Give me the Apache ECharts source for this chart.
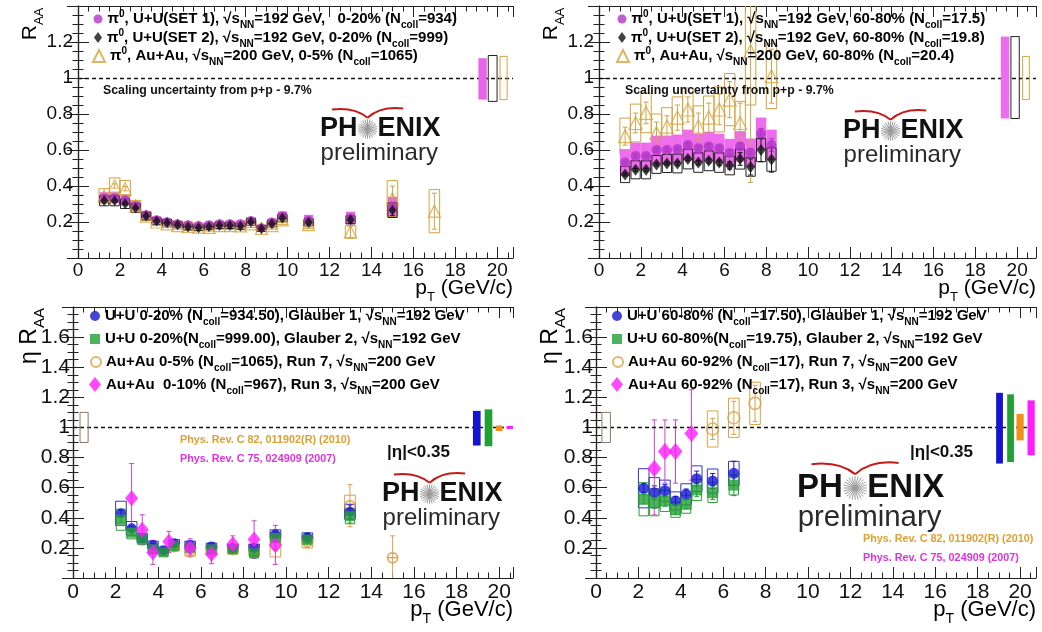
<!DOCTYPE html>
<html><head><meta charset="utf-8">
<script src="https://cdn.jsdelivr.net/npm/echarts@6/dist/echarts.min.js"></script>
<style>html,body{margin:0;padding:0;background:#fff}#c{width:1042px;height:632px}</style>
</head><body><div id="c"></div>
<script>
// ---------------- DATA ----------------
// Top-left: pi0 RAA central
const tlPt = [1.25,1.75,2.25,2.75,3.25,3.75,4.25,4.75,5.25,5.75,6.25,6.75,7.25,7.75,8.25,8.75,9.25,9.75,11,13,15];
const tlSet1 = [0.335,0.335,0.322,0.29,0.24,0.212,0.202,0.19,0.185,0.18,0.185,0.19,0.19,0.19,0.208,0.168,0.2,0.235,0.21,0.222,0.285];
const tlSet1Sys = [0.03,0.03,0.03,0.026,0.022,0.02,0.019,0.018,0.018,0.018,0.018,0.018,0.018,0.018,0.02,0.017,0.02,0.024,0.03,0.035,0.055];
const tlSet1Stat = [0.006,0.006,0.006,0.006,0.006,0.006,0.006,0.006,0.006,0.006,0.006,0.006,0.006,0.006,0.008,0.008,0.008,0.01,0.01,0.015,0.025];
const tlSet2 = [0.318,0.318,0.302,0.278,0.233,0.205,0.196,0.185,0.172,0.168,0.174,0.181,0.181,0.177,0.2,0.163,0.19,0.222,0.198,0.212,0.265];
const tlSet2Sys = [0.028,0.028,0.027,0.025,0.021,0.018,0.018,0.017,0.016,0.016,0.016,0.017,0.017,0.017,0.019,0.016,0.018,0.021,0.02,0.022,0.04];
const tlSet2Stat = [0.006,0.006,0.006,0.006,0.006,0.006,0.006,0.006,0.006,0.006,0.006,0.006,0.006,0.006,0.008,0.008,0.008,0.01,0.012,0.018,0.03];
const tlAuPt = [1.25,1.75,2.25,2.75,3.25,3.75,4.25,4.75,5.25,5.75,6.25,6.75,7.25,7.75,8.25,8.75,9.25,9.75,11,13,15,17];
const tlAu = [0.345,0.4,0.385,0.29,0.232,0.2,0.19,0.18,0.176,0.172,0.17,0.18,0.18,0.178,0.19,0.165,0.18,0.212,0.185,0.145,0.33,0.26];
const tlAuSys = [0.04,0.045,0.045,0.03,0.025,0.02,0.02,0.02,0.02,0.02,0.02,0.02,0.02,0.02,0.02,0.018,0.02,0.025,0.022,0.035,0.1,0.12];
const tlAuStat = [0.01,0.012,0.012,0.008,0.008,0.008,0.008,0.008,0.008,0.008,0.008,0.008,0.008,0.008,0.01,0.01,0.012,0.015,0.015,0.03,0.07,0.1];
const tlScaleX = [19.3,19.78,20.3];
const tlScaleLo = [0.88,0.87,0.88];
const tlScaleHi = [1.11,1.125,1.12];

// Top-right: pi0 RAA peripheral
const trPt = [1.25,1.75,2.25,2.75,3.25,3.75,4.25,4.75,5.25,5.75,6.25,6.75,7.25,7.75,8.25];
const trSet1 = [0.53,0.566,0.566,0.6,0.6,0.606,0.628,0.61,0.62,0.61,0.584,0.62,0.584,0.69,0.628];
const trSet1Sys = [0.075,0.075,0.075,0.08,0.08,0.08,0.085,0.08,0.08,0.08,0.078,0.085,0.08,0.09,0.085];
const trSet1Stat = [0.008,0.008,0.008,0.008,0.008,0.008,0.01,0.01,0.012,0.012,0.015,0.02,0.025,0.03,0.035];
const trSet2 = [0.464,0.49,0.49,0.52,0.525,0.525,0.55,0.53,0.54,0.53,0.514,0.55,0.506,0.6,0.547];
const trSet2Sys = [0.045,0.05,0.05,0.05,0.05,0.052,0.055,0.054,0.055,0.054,0.052,0.056,0.052,0.065,0.065];
const trSet2Stat = [0.008,0.008,0.008,0.008,0.008,0.01,0.01,0.012,0.012,0.015,0.02,0.035,0.045,0.065,0.07];
const trAuPt = [1.25,1.75,2.25,2.75,3.25,3.75,4.25,4.75,5.25,5.75,6.25,6.75,7.25,8.25];
const trAu = [0.677,0.75,0.806,0.695,0.73,0.78,0.825,0.73,0.78,0.825,0.88,0.75,1.15,1.01];
const trAuSys = [0.1,0.105,0.11,0.105,0.105,0.115,0.12,0.115,0.12,0.125,0.145,0.12,0.3,0.18];
const trAuStat = [0.05,0.055,0.06,0.06,0.06,0.07,0.07,0.075,0.08,0.085,0.1,0.11,0.73,0.15];
const trScaleX = [19.42,19.9,20.42];
const trScaleLo = [0.775,0.775,0.88];
const trScaleHi = [1.23,1.23,1.12];

// Bottom-left: eta RAA central
const blPt = [2.25,2.75,3.25,3.75,4.25,4.75,5.5,6.5,7.5,8.5,9.5,11,13];
const blBlue = [0.43,0.33,0.266,0.22,0.185,0.23,0.22,0.21,0.2,0.2,0.29,0.27,0.44];
const blBlueSys = [0.08,0.045,0.03,0.025,0.02,0.025,0.025,0.022,0.022,0.022,0.03,0.03,0.05];
const blBlueStat = [0.02,0.015,0.01,0.01,0.01,0.01,0.01,0.01,0.012,0.015,0.02,0.025,0.045];
const blGreen = [0.387,0.3,0.255,0.19,0.17,0.21,0.2,0.19,0.19,0.163,0.266,0.255,0.41];
const blGreenSys = [0.07,0.04,0.03,0.025,0.02,0.025,0.025,0.022,0.022,0.022,0.03,0.03,0.05];
const blGreenStat = [0.02,0.015,0.01,0.01,0.01,0.01,0.01,0.01,0.012,0.015,0.02,0.025,0.045];
const blOrPt = [4.75,5.5,6.5,7.5,8.5,9.5,11,13,15];
const blOr = [0.21,0.18,0.18,0.19,0.19,0.22,0.24,0.48,0.135];
const blOrSys = [0.025,0.035,0.03,0.03,0.04,0.08,0.04,0.07,0];
const blOrStat = [0.01,0.02,0.02,0.02,0.03,0.04,0.04,0.14,0.145];
const blMgPt = [2.75,3.25,3.75,4.5,5.5,6.5,7.5,8.5,9.5];
const blMg = [0.53,0.32,0.17,0.24,0.2,0.16,0.225,0.255,0.22];
const blMgLo = [0.3,0.22,0.09,0.17,0.14,0.095,0.17,0.13,0.09];
const blMgHi = [0.76,0.42,0.25,0.31,0.26,0.225,0.28,0.38,0.35];
const blScaleX = [18.95,19.5,20.0,20.5];
const blScaleLo = [0.88,0.875,0.976,0.99];
const blScaleHi = [1.11,1.12,1.013,1.01];
const blRefX = [0.52], blRefLo = [0.9], blRefHi = [1.1];

// Bottom-right: eta RAA peripheral
const brPt = [2.25,2.75,3.25,3.75,4.25,4.75,5.5,6.5];
const brBlue = [0.596,0.567,0.58,0.512,0.556,0.66,0.644,0.695];
const brBlueSys = [0.13,0.1,0.07,0.06,0.07,0.085,0.08,0.08];
const brBlueStat = [0.03,0.045,0.04,0.03,0.035,0.05,0.05,0.08];
const brGreen = [0.523,0.503,0.512,0.453,0.49,0.585,0.567,0.617];
const brGreenSys = [0.11,0.09,0.07,0.05,0.06,0.07,0.065,0.065];
const brGreenStat = [0.03,0.04,0.035,0.03,0.03,0.045,0.045,0.07];
const brOrPt = [5.5,6.5,7.5];
const brOr = [0.99,1.064,1.16];
const brOrSys = [0.12,0.13,0.14];
const brOrStat = [0.07,0.11,0.12];
const brMgPt = [2.75,3.25,3.75,4.5];
const brMg = [0.727,0.84,0.84,0.96];
const brMgLo = [0.42,0.63,0.63,0.65];
const brMgHi = [1.05,1.05,1.05,1.25];
const brScaleX = [19.03,19.55,20.0,20.52];
const brScaleLo = [0.76,0.77,0.914,0.815];
const brScaleHi = [1.23,1.22,1.09,1.18];
const brRefX = [0.48], brRefLo = [0.9], brRefHi = [1.1];

// Texts
const tlLabels = ['π^{0}, U+U(SET 1), √s_{NN}=192 GeV,   0-20% (N_{coll}=934)',
                  'π^{0}, U+U(SET 2), √s_{NN}=192 GeV, 0-20% (N_{coll}=999)',
                  'π^{0}, Au+Au, √s_{NN}=200 GeV, 0-5% (N_{coll}=1065)'];
const trLabels = ['π^{0}, U+U(SET 1), √s_{NN}=192 GeV, 60-80% (N_{coll}=17.5)',
                  'π^{0}, U+U(SET 2), √s_{NN}=192 GeV, 60-80% (N_{coll}=19.8)',
                  'π^{0}, Au+Au, √s_{NN}=200 GeV, 60-80% (N_{coll}=20.4)'];
const blLabels = ['U+U 0-20% (N_{coll}=934.50), Glauber 1, √s_{NN}=192 GeV',
                  'U+U 0-20%(N_{coll}=999.00), Glauber 2, √s_{NN}=192 GeV',
                  'Au+Au 0-5% (N_{coll}=1065), Run 7, √s_{NN}=200 GeV',
                  'Au+Au  0-10% (N_{coll}=967), Run 3, √s_{NN}=200 GeV'];
const brLabels = ['U+U 60-80% (N_{coll}=17.50), Glauber 1, √s_{NN}=192 GeV',
                  'U+U 60-80%(N_{coll}=19.75), Glauber 2, √s_{NN}=192 GeV',
                  'Au+Au 60-92% (N_{coll}=17), Run 7, √s_{NN}=200 GeV',
                  'Au+Au 60-92% (N_{coll}=17), Run 3, √s_{NN}=200 GeV'];
const scalingText = 'Scaling uncertainty from p+p - 9.7%';
const refTexts = ['Phys. Rev. C 82, 011902(R) (2010)', 'Phys. Rev. C 75, 024909 (2007)'];
const etaCut = '|η|<0.35';
const yTitleTop = 'R_{AA}', yTitleBottom = 'η R_{AA}', xTitle = 'p_{T} (GeV/c)';

// ---------------- HELPERS ----------------
const FONT = '"Liberation Sans", Arial, Helvetica, sans-serif';
const COL = {mag:'#b236c8', magBox:'#e864e8', magBand:'#ee6cee', blk:'#111111', org:'#d6a23e',
  blue:'#1515d0', green:'#22a033', orgC:'#d9a24a', pink:'#ff1cff', gray:'#8a7868', orgF:'#f0901a'};

function rich(s) {
  let out = '', last = 0; const re = /(\^|_)\{([^}]*)\}/g; let m;
  while ((m = re.exec(s)) !== null) {
    if (m.index > last) out += '{b|' + s.slice(last, m.index) + '}';
    out += (m[1] === '^' ? '{sup|' : '{sub|') + m[2] + '}';
    last = re.lastIndex;
  }
  if (last < s.length) out += '{b|' + s.slice(last) + '}';
  return out;
}
function richStyles(fs, weight) {
  const w = weight || 'bold', sfs = Math.round(fs * 0.64);
  return {
    b: {fontSize: fs, fontWeight: w, fontFamily: FONT, color: '#000'},
    sup: {fontSize: sfs, fontWeight: w, fontFamily: FONT, color: '#000', verticalAlign: 'middle', padding: [0,0,Math.round(fs*0.6),0]},
    sub: {fontSize: sfs, fontWeight: w, fontFamily: FONT, color: '#000', verticalAlign: 'bottom', padding: [Math.round(fs*0.85),0,0,0]}
  };
}

const grids = [
  {left: 78, top: 6, width: 435, height: 252},
  {left: 599, top: 6, width: 437, height: 252},
  {left: 73, top: 307, width: 440, height: 271},
  {left: 596, top: 307, width: 440, height: 271}
];
const xMax = [20.75, 20.9, 20.65, 20.75];
const yMax = [1.4, 1.4, 1.8, 1.8];
const tickFs = [19, 19, 21, 21];
const xAxes = [], yAxes = [];
grids.forEach((g, i) => {
  g.outerBoundsMode = 'none'; g.containLabel = false;
  const line = {show: true, lineStyle: {color: '#222', width: 1.2}};
  const major = {show: true, inside: true, length: 11, lineStyle: {color: '#222', width: 1}};
  const minor = {show: true, inside: true, length: 5.5, lineStyle: {color: '#222', width: 1}};
  const base = {gridIndex: i, type: 'value', min: 0, max: xMax[i], splitLine: {show: false}};
  xAxes.push(Object.assign({}, base, {position: 'bottom', interval: 2, axisLine: line, axisTick: major,
    axisLabel: {show: true, fontSize: tickFs[i], color: '#111', fontFamily: FONT, margin: i < 2 ? 3 : 4,
      formatter: v => (Math.abs(v / 2 - Math.round(v / 2)) < 1e-6 && v <= 20.001) ? String(Math.round(v)) : ''}}));
  xAxes.push(Object.assign({}, base, {position: 'bottom', interval: 0.5, axisLine: {show: false}, axisTick: minor, axisLabel: {show: false}}));
  xAxes.push(Object.assign({}, base, {position: 'top', interval: 2, axisLine: line, axisTick: major, axisLabel: {show: false}}));
  xAxes.push(Object.assign({}, base, {position: 'top', interval: 0.5, axisLine: {show: false}, axisTick: minor, axisLabel: {show: false}}));
  const ybase = {gridIndex: i, type: 'value', min: 0, max: yMax[i], interval: 0.2, splitLine: {show: false},
    axisLine: line, axisTick: major, minorTick: {show: true, splitNumber: 4, length: 5.5, lineStyle: {color: '#222', width: 1}}};
  yAxes.push(Object.assign({}, ybase, {position: 'left',
    axisLabel: {show: true, fontSize: tickFs[i], color: '#111', fontFamily: FONT, margin: i < 2 ? 5 : 3,
      formatter: v => (v < 0.01 || v > yMax[i] - 0.01) ? '' : (Math.abs(v - 1) < 1e-6 ? '1' : v.toFixed(1))}}));
  yAxes.push(Object.assign({}, ybase, {position: 'right', axisLabel: {show: false}}));
});

function boxes(gi, xs, lo, hi, hw, style, z) {
  return {type: 'custom', xAxisIndex: gi * 4, yAxisIndex: gi * 2, clip: true, silent: true, z: z || 2,
    data: xs.map((x, k) => [x, lo[k], hi[k]]),
    renderItem(params, api) {
      const x = api.value(0), l = api.value(1), h = api.value(2);
      const w = Array.isArray(hw) ? hw[params.dataIndex] : hw;
      const a = api.coord([x - w, h]), b = api.coord([x + w, l]);
      const st = Array.isArray(style) ? style[params.dataIndex] : style;
      return {type: 'rect', shape: {x: a[0], y: a[1], width: b[0] - a[0], height: b[1] - a[1]}, style: st};
    }};
}
function symBoxes(gi, xs, ys, e, hw, style, z) {
  return boxes(gi, xs, ys.map((y, k) => y - e[k]), ys.map((y, k) => y + e[k]), hw, style, z);
}
function errBars(gi, xs, lo, hi, color, z) {
  return {type: 'custom', xAxisIndex: gi * 4, yAxisIndex: gi * 2, clip: true, silent: true, z: z || 3,
    data: xs.map((x, k) => [x, lo[k], hi[k]]),
    renderItem(params, api) {
      const x = api.value(0), l = api.value(1), h = api.value(2);
      const a = api.coord([x, h]), b = api.coord([x, l]);
      const st = {stroke: color, lineWidth: 1};
      return {type: 'group', children: [
        {type: 'line', shape: {x1: a[0], y1: a[1], x2: b[0], y2: b[1]}, style: st},
        {type: 'line', shape: {x1: a[0] - 2.5, y1: a[1], x2: a[0] + 2.5, y2: a[1]}, style: st},
        {type: 'line', shape: {x1: b[0] - 2.5, y1: b[1], x2: b[0] + 2.5, y2: b[1]}, style: st}]};
    }};
}
function symErr(gi, xs, ys, e, color, z) {
  return errBars(gi, xs, ys.map((y, k) => y - e[k]), ys.map((y, k) => y + e[k]), color, z);
}
function markers(gi, name, xs, ys, symbol, size, itemStyle, z) {
  return {type: 'scatter', name, xAxisIndex: gi * 4, yAxisIndex: gi * 2, symbol, symbolSize: size,
    itemStyle, z: z || 5, silent: true, data: xs.map((x, k) => [x, ys[k]])};
}
function unityLine(gi) {
  return {type: 'scatter', xAxisIndex: gi * 4, yAxisIndex: gi * 2, data: [], silent: true, z: 4,
    markLine: {silent: true, symbol: ['none', 'none'], label: {show: false}, animation: false,
      lineStyle: {type: [4, 3], color: '#111', width: 1.3}, data: [{yAxis: 1}]}};
}
const openStyle = c => ({fill: 'none', stroke: c, lineWidth: 1});
const fillStyle = c => ({fill: c, stroke: null});

// ---------------- SERIES ----------------
const series = [];
// TL
series.push(symBoxes(0, tlPt, tlSet1, tlSet1Sys, 0.22, fillStyle(COL.magBox)));
series.push(symBoxes(0, tlAuPt, tlAu, tlAuSys, 0.25, openStyle(COL.org)));
series.push(symBoxes(0, tlPt, tlSet2, tlSet2Sys, 0.22, openStyle('#222')));
series.push(symErr(0, tlAuPt, tlAu, tlAuStat, COL.org));
series.push(symErr(0, tlPt, tlSet1, tlSet1Stat, COL.mag));
series.push(symErr(0, tlPt, tlSet2, tlSet2Stat, '#111'));
series.push(unityLine(0));
series.push(markers(0, 'tl3', tlAuPt, tlAu, 'triangle', 12, {color: 'rgba(0,0,0,0)', borderColor: COL.org, borderWidth: 1.2}));
series.push(markers(0, 'tl1', tlPt, tlSet1, 'circle', 9, {color: COL.mag}));
series.push(markers(0, 'tl2', tlPt, tlSet2, 'diamond', [8, 11], {color: COL.blk}));
series.push(boxes(0, tlScaleX, tlScaleLo, tlScaleHi, [0.2, 0.21, 0.17],
  [fillStyle(COL.magBox), openStyle('#222'), openStyle(COL.org)], 6));
// TR
series.push(symBoxes(1, trAuPt, trAu, trAuSys, 0.25, openStyle(COL.org)));
series.push(symBoxes(1, trPt, trSet1, trSet1Sys, 0.25, fillStyle(COL.magBand)));
series.push(symBoxes(1, trPt, trSet2, trSet2Sys, 0.22, openStyle('#222')));
series.push(symErr(1, trAuPt, trAu, trAuStat, COL.org));
series.push(symErr(1, trPt, trSet1, trSet1Stat, COL.mag));
series.push(symErr(1, trPt, trSet2, trSet2Stat, '#111'));
series.push(unityLine(1));
series.push(markers(1, 'tr3', trAuPt, trAu, 'triangle', 13, {color: 'rgba(0,0,0,0)', borderColor: COL.org, borderWidth: 1.2}));
series.push(markers(1, 'tr1', trPt, trSet1, 'circle', 10, {color: COL.mag}));
series.push(markers(1, 'tr2', trPt, trSet2, 'diamond', [9, 12], {color: COL.blk}));
series.push(boxes(1, trScaleX, trScaleLo, trScaleHi, [0.2, 0.2, 0.16],
  [fillStyle(COL.magBand), openStyle('#222'), openStyle(COL.org)], 6));
// BL
series.push(symBoxes(2, blOrPt, blOr, blOrSys, 0.25, openStyle(COL.orgC)));
series.push(symBoxes(2, blPt, blBlue, blBlueSys, 0.25, openStyle('#3434c8')));
series.push(symBoxes(2, blPt, blGreen, blGreenSys, 0.22, openStyle('#2e9e3a')));
series.push(symErr(2, blOrPt, blOr, blOrStat, COL.orgC));
series.push(symErr(2, blPt, blBlue, blBlueStat, COL.blue));
series.push(symErr(2, blPt, blGreen, blGreenStat, COL.green));
series.push(errBars(2, blMgPt, blMgLo, blMgHi, '#d040d0'));
series.push(unityLine(2));
series.push(markers(2, 'bl3', blOrPt, blOr, 'circle', 10, {color: 'rgba(0,0,0,0)', borderColor: COL.orgC, borderWidth: 2}));
series.push(markers(2, 'bl1', blPt, blBlue, 'circle', 10, {color: COL.blue}));
series.push(markers(2, 'bl2', blPt, blGreen, 'rect', 10, {color: COL.green}));
series.push(markers(2, 'bl4', blMgPt, blMg, 'diamond', [13, 16], {color: COL.pink}));
series.push(boxes(2, blScaleX, blScaleLo, blScaleHi, [0.18, 0.18, 0.16, 0.15],
  [fillStyle(COL.blue), fillStyle(COL.green), fillStyle(COL.orgF), fillStyle(COL.pink)], 6));
series.push(boxes(2, blRefX, blRefLo, blRefHi, 0.19, openStyle(COL.gray), 6));
// BR
series.push(symBoxes(3, brOrPt, brOr, brOrSys, 0.25, openStyle(COL.orgC)));
series.push(symBoxes(3, brPt, brBlue, brBlueSys, 0.25, openStyle('#3434c8')));
series.push(symBoxes(3, brPt, brGreen, brGreenSys, 0.22, openStyle('#2e9e3a')));
series.push(symErr(3, brOrPt, brOr, brOrStat, COL.orgC));
series.push(symErr(3, brPt, brBlue, brBlueStat, COL.blue));
series.push(symErr(3, brPt, brGreen, brGreenStat, COL.green));
series.push(errBars(3, brMgPt, brMgLo, brMgHi, '#d040d0'));
series.push(unityLine(3));
series.push(markers(3, 'br3', brOrPt, brOr, 'circle', 12, {color: 'rgba(0,0,0,0)', borderColor: COL.orgC, borderWidth: 1.5}));
series.push(markers(3, 'br1', brPt, brBlue, 'circle', 11, {color: COL.blue}));
series.push(markers(3, 'br2', brPt, brGreen, 'rect', 11, {color: COL.green}));
series.push(markers(3, 'br4', brMgPt, brMg, 'diamond', [14, 17], {color: COL.pink}));
series.push(boxes(3, brScaleX, brScaleLo, brScaleHi, [0.16, 0.16, 0.17, 0.17],
  [fillStyle(COL.blue), fillStyle(COL.green), fillStyle(COL.orgF), fillStyle(COL.pink)], 6));
series.push(boxes(3, brRefX, brRefLo, brRefHi, 0.2, openStyle(COL.gray), 6));

// ---------------- LEGENDS ----------------
function legendItem(name, label, left, cy, fs, iw, ih) {
  const lh = Math.round(fs * 0.64) + Math.round(fs * 0.85);
  return {show: true, left, top: cy - lh / 2, padding: 0, itemWidth: iw, itemHeight: ih, data: [name],
    selectedMode: false, formatter: () => rich(label),
    textStyle: {fontFamily: FONT, fontSize: fs, fontWeight: 'bold', color: '#000', rich: richStyles(fs)}};
}
const legends = [];
const topRows = [21, 39.5, 58], botRows = [320, 343, 366, 388.5];
const LFS = 15;
[['tl1', 9, 9], ['tl2', 8, 11], ['tl3', 12, 12]].forEach((it, k) =>
  legends.push(legendItem(it[0], tlLabels[k], 98 - it[1] / 2, topRows[k], LFS, it[1], it[2])));
[['tr1', 9, 9], ['tr2', 8, 11], ['tr3', 12, 12]].forEach((it, k) =>
  legends.push(legendItem(it[0], trLabels[k], 622 - it[1] / 2, topRows[k], LFS, it[1], it[2])));
[['bl1', 10, 10], ['bl2', 10, 10], ['bl3', 10, 10], ['bl4', 12, 15]].forEach((it, k) =>
  legends.push(legendItem(it[0], blLabels[k], 95 - it[1] / 2, botRows[k], LFS, it[1], it[2])));
[['br1', 10, 10], ['br2', 10, 10], ['br3', 10, 10], ['br4', 12, 15]].forEach((it, k) =>
  legends.push(legendItem(it[0], brLabels[k], 617 - it[1] / 2, botRows[k], LFS, it[1], it[2])));

// ---------------- GRAPHICS (text, logos) ----------------
const graphics = [];
function rtext(x, y, s, fs, opts) {
  opts = opts || {};
  graphics.push({type: 'text', x, y, rotation: opts.rot || 0, z: 50, silent: true,
    style: {text: rich(s), rich: richStyles(fs, opts.weight || 'normal'), align: opts.align || 'left',
      verticalAlign: 'middle', font: (opts.weight || 'normal') + ' ' + fs + 'px ' + FONT, fill: '#000'}});
}
function ptext(x, y, s, fs, color, weight, align) {
  graphics.push({type: 'text', x, y, z: 50, silent: true,
    style: {text: s, font: (weight || 'normal') + ' ' + fs + 'px ' + FONT, fill: color, align: align || 'left', verticalAlign: 'middle'}});
}
function logo(x0, yc, s) {
  const f = 'bold ' + s + 'px ' + FONT;
  graphics.push({type: 'text', x: x0, y: yc, z: 50, silent: true, style: {text: 'PH', font: f, fill: '#111', verticalAlign: 'middle'}});
  const cx = x0 + 1.39 * s + 0.37 * s, r = 0.36 * s;
  for (let k = 0; k < 12; k++) {
    const a = k * Math.PI / 12;
    graphics.push({type: 'line', z: 50, silent: true, shape: {x1: cx - r * Math.cos(a), y1: yc - r * Math.sin(a), x2: cx + r * Math.cos(a), y2: yc + r * Math.sin(a)},
      style: {stroke: '#9a9a9a', lineWidth: 1}});
  }
  graphics.push({type: 'text', x: x0 + 1.39 * s + 0.74 * s, y: yc, z: 50, silent: true, style: {text: 'ENIX', font: f, fill: '#111', verticalAlign: 'middle'}});
  graphics.push({type: 'text', x: x0 + 0.02 * s, y: yc + 0.9 * s, z: 50, silent: true,
    style: {text: 'preliminary', font: 'normal ' + (0.89 * s).toFixed(1) + 'px ' + FONT, fill: '#2a2a2a', verticalAlign: 'middle'}});
  const vy = yc - 0.42 * s;
  graphics.push({type: 'bezierCurve', z: 50, silent: true, shape: {x1: x0 + 0.44 * s, y1: yc - 0.72 * s, cpx1: cx - 0.5 * s, cpy1: yc - 0.82 * s, x2: cx, y2: vy},
    style: {stroke: '#c41a1a', lineWidth: 2, fill: null}});
  graphics.push({type: 'bezierCurve', z: 50, silent: true, shape: {x1: cx, y1: vy, cpx1: cx + 0.5 * s, cpy1: yc - 0.86 * s, x2: x0 + 3.08 * s, y2: yc - 0.76 * s},
    style: {stroke: '#c41a1a', lineWidth: 2, fill: null}});
}
// axis titles
rtext(30, 24, yTitleTop, 21, {rot: Math.PI / 2, align: 'center'});
rtext(551, 24, yTitleTop, 21, {rot: Math.PI / 2, align: 'center'});
rtext(30, 336, yTitleBottom, 23, {rot: Math.PI / 2, align: 'center'});
rtext(551, 336, yTitleBottom, 23, {rot: Math.PI / 2, align: 'center'});
rtext(513, 288, xTitle, 21, {align: 'right'});
rtext(1036, 288, xTitle, 21, {align: 'right'});
rtext(513, 610, xTitle, 22, {align: 'right'});
rtext(1036, 610, xTitle, 22, {align: 'right'});
// annotations
ptext(103, 91, scalingText, 12.3, '#111', 'bold');
ptext(625, 91, scalingText, 12.3, '#111', 'bold');
ptext(180, 440, refTexts[0], 10.8, '#e0a030', 'bold');
ptext(180, 459, refTexts[1], 10.8, '#dd33dd', 'bold');
ptext(863, 539, refTexts[0], 10.8, '#e0a030', 'bold');
ptext(863, 558, refTexts[1], 10.8, '#dd33dd', 'bold');
ptext(387, 452, etaCut, 17, '#111', 'bold');
ptext(910, 452, etaCut, 17, '#111', 'bold');
logo(320, 129, 27);
logo(843, 131, 27);
logo(382, 494, 27);
logo(797, 488, 33);

const chart = echarts.init(document.getElementById('c'), null, {renderer: 'canvas'});
chart.setOption({
  animation: false,
  backgroundColor: '#fff',
  grid: grids,
  xAxis: xAxes,
  yAxis: yAxes,
  legend: legends,
  series,
  graphic: graphics
});
</script></body></html>
